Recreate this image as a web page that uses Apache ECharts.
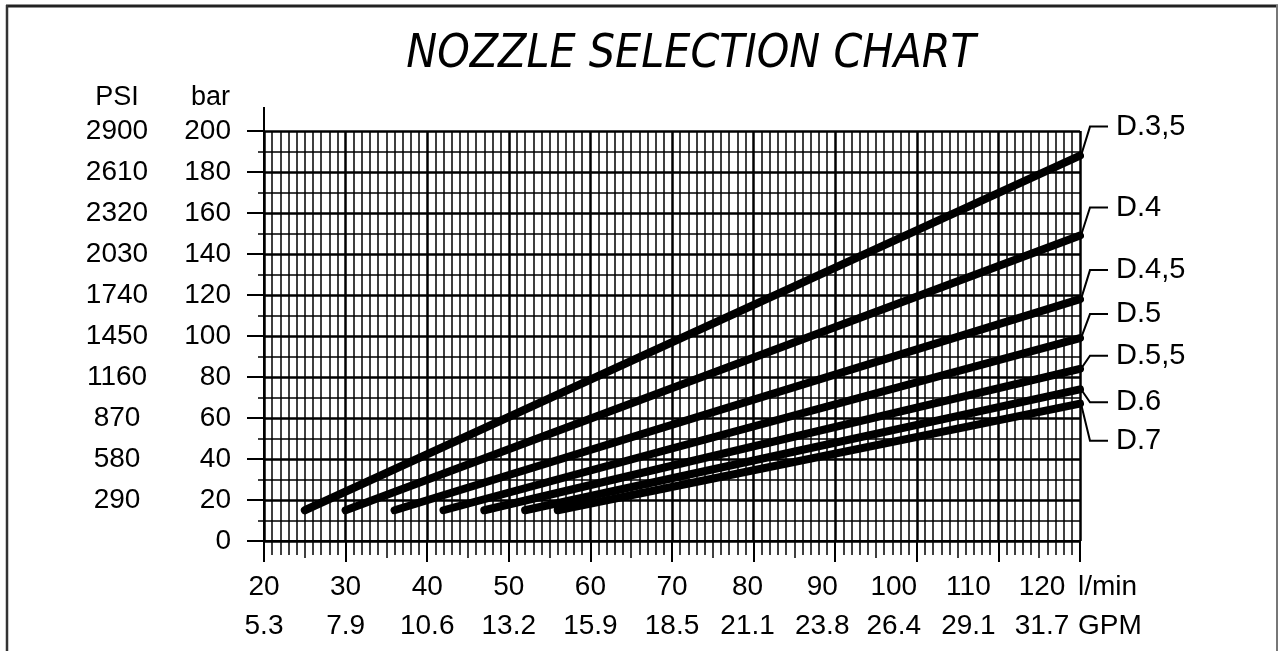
<!DOCTYPE html>
<html><head><meta charset="utf-8">
<script src="https://cdn.jsdelivr.net/npm/echarts@6/dist/echarts.min.js"></script>
<style>html,body{margin:0;padding:0;background:#fff}#c{width:1279px;height:651px}</style>
</head><body><div id="c"></div>
<script>
// ---- data ----
const nozzleNames   = ['D.3,5', 'D.4', 'D.4,5', 'D.5', 'D.5,5', 'D.6', 'D.7'];
const startFlow     = [25, 30, 36, 42, 47, 52, 56];      // l/min
const startPressure = [15, 15, 15, 15, 15, 15, 15];      // bar
const endFlow       = [120, 120, 120, 120, 120, 120, 120];
const endPressure   = [188, 149, 118, 99, 84, 74, 67];   // bar
const flowTicks     = [20, 30, 40, 50, 60, 70, 80, 90, 100, 110, 120];
const gpmLabels     = ['5.3', '7.9', '10.6', '13.2', '15.9', '18.5', '21.1', '23.8', '26.4', '29.1', '31.7'];
const barTicks      = [0, 20, 40, 60, 80, 100, 120, 140, 160, 180, 200];
const psiLabels     = ['', '290', '580', '870', '1160', '1450', '1740', '2030', '2320', '2610', '2900'];

// ---- styling ----
const FONT = "'Liberation Sans', Arial, sans-serif";
const TFONT = "'DejaVu Sans Condensed', 'Liberation Sans', sans-serif";
const FS = 28;
const xLabelShift = {80: -6, 90: -13, 100: -23, 110: -30, 120: -38};
const labelDy = [-29, -28, -29, -24, -13, 13, 37];

const rich = {};
flowTicks.forEach(v => {
  const s = xLabelShift[v] || 0;
  rich['t' + v] = {fontSize: FS, lineHeight: 39, color: '#000', fontFamily: FONT,
                   padding: [0, -2 * s, 0, 0]};
});
const lastFlow = flowTicks[flowTicks.length - 1];
const flowLabel = v => {
  const i = flowTicks.indexOf(v);
  return i < 0 ? '' : '{t' + v + '|' + v + '}\n{t' + v + '|' + gpmLabels[i] + '}';
};

const chart = echarts.init(document.getElementById('c'), null, {renderer: 'canvas'});

const series = nozzleNames.map((n, i) => ({
  name: n, type: 'line', symbol: 'none', silent: true,
  data: [[startFlow[i], startPressure[i]], [endFlow[i], endPressure[i]]],
  lineStyle: {color: '#000', width: 8, cap: 'round'}
}));

chart.setOption({
  backgroundColor: '#fff',
  animation: false,
  title: {
    text: 'NOZZLE SELECTION CHART', left: 686, top: 27, textAlign: 'center',
    textStyle: {fontSize: 46, fontStyle: 'italic', fontWeight: 'normal', color: '#000', fontFamily: TFONT}
  },
  grid: {left: 264, right: 199, top: 131, bottom: 110, containLabel: false},
  xAxis: [{
    type: 'value', min: 20, max: 120, interval: 10,
    axisLine: {lineStyle: {color: '#000', width: 2}},
    axisTick: {length: 21, lineStyle: {color: '#000', width: 2}},
    minorTick: {show: true, splitNumber: 10, length: 14, lineStyle: {color: '#000', width: 1.5}},
    splitLine: {show: true, lineStyle: {color: '#000', width: 2.5}},
    minorSplitLine: {show: true, lineStyle: {color: '#000', width: 1.5}},
    axisLabel: {
      margin: 27, rich: rich, showMinLabel: true, showMaxLabel: false, hideOverlap: false,
      formatter: v => v === lastFlow ? '' : flowLabel(v)
    }
  }, {
    type: 'value', min: 20, max: 120, interval: 5, position: 'bottom',
    axisLine: {show: false},
    axisTick: {length: 17, lineStyle: {color: '#000', width: 1.5}},
    axisLabel: {show: false}, splitLine: {show: false}
  }, {
    type: 'value', min: 20, max: 120, interval: 10, position: 'bottom',
    axisLine: {show: false}, axisTick: {show: false}, splitLine: {show: false},
    axisLabel: {
      margin: 27, rich: rich, showMinLabel: true, showMaxLabel: true, hideOverlap: false,
      formatter: v => v === lastFlow ? flowLabel(v) : ''
    }
  }],
  yAxis: [{
    type: 'value', min: 0, max: 200, interval: 20,
    name: 'bar', nameLocation: 'end', nameGap: 20,
    nameTextStyle: {fontSize: 27, color: '#000', fontFamily: FONT, align: 'right', padding: [0, 34, 0, 0]},
    axisLine: {lineStyle: {color: '#000', width: 2}},
    axisTick: {length: 17, lineStyle: {color: '#000', width: 2}},
    minorTick: {show: true, splitNumber: 2, length: 6, lineStyle: {color: '#000', width: 1.5}},
    splitLine: {show: true, lineStyle: {color: '#000', width: 2.5}},
    minorSplitLine: {show: true, lineStyle: {color: '#000', width: 1.5}},
    axisLabel: {margin: 33, fontSize: FS, color: '#000', fontFamily: FONT, showMinLabel: true, showMaxLabel: true}
  }, {
    type: 'value', min: 0, max: 200, interval: 20, position: 'left', offset: 147,
    name: 'PSI', nameLocation: 'end', nameGap: 20,
    nameTextStyle: {fontSize: 27, color: '#000', fontFamily: FONT, align: 'center'},
    axisLine: {show: false}, axisTick: {show: false}, splitLine: {show: false},
    axisLabel: {margin: 0, align: 'center', fontSize: FS, color: '#000', fontFamily: FONT,
                showMinLabel: true, showMaxLabel: true,
                formatter: v => psiLabels[barTicks.indexOf(v)] || ''}
  }],
  series: series
});

// ---- overlays positioned from the library's scales ----
(function () {
  const g = [];
  const P = (x, y) => chart.convertToPixel({gridIndex: 0}, [x, y]);
  const axTop = P(20, 200);
  g.push({type: 'line', shape: {x1: axTop[0], y1: axTop[1], x2: axTop[0], y2: axTop[1] - 24}, style: {stroke: '#000', lineWidth: 2}});
  nozzleNames.forEach((n, i) => {
    const p = P(endFlow[i], endPressure[i]);
    const ly = p[1] + labelDy[i];
    g.push({type: 'polyline', shape: {points: [[p[0] + 1, p[1]], [p[0] + 10, ly], [p[0] + 28, ly]]},
            style: {stroke: '#000', lineWidth: 2, fill: null}});
    g.push({type: 'text', x: p[0] + 36, y: ly,
            style: {text: n, fontSize: 29, fontFamily: FONT, fill: '#000', textAlign: 'left', textVerticalAlign: 'middle'}});
  });
  const o = P(120, 0);
  g.push({type: 'text', x: o[0] - 2, y: o[1] + 46, style: {text: 'l/min', fontSize: FS, fontFamily: FONT, fill: '#000', textAlign: 'left', textVerticalAlign: 'middle'}});
  g.push({type: 'text', x: o[0] - 2, y: o[1] + 85, style: {text: 'GPM', fontSize: FS, fontFamily: FONT, fill: '#000', textAlign: 'left', textVerticalAlign: 'middle'}});
  g.push({type: 'line', shape: {x1: 6, y1: 6, x2: 1278, y2: 6}, style: {stroke: '#222', lineWidth: 3}});
  g.push({type: 'line', shape: {x1: 7, y1: 5, x2: 7, y2: 651}, style: {stroke: '#333', lineWidth: 2.5}});
  g.push({type: 'line', shape: {x1: 1277, y1: 5, x2: 1277, y2: 651}, style: {stroke: '#777', lineWidth: 2}});
  chart.setOption({graphic: g});
})();
</script></body></html>
